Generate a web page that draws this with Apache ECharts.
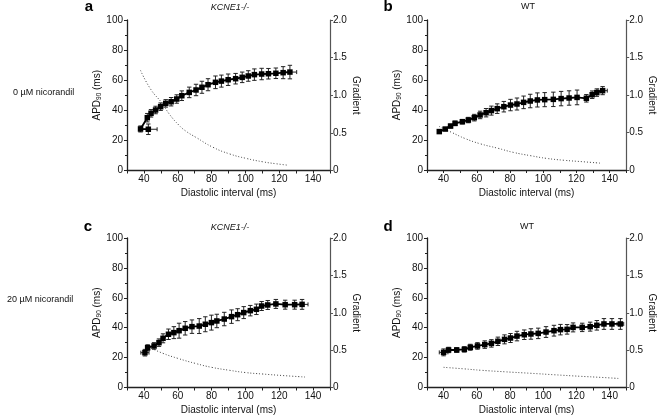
<!DOCTYPE html>
<html>
<head>
<meta charset="utf-8">
<script src="https://cdn.jsdelivr.net/npm/echarts@6/dist/echarts.min.js"></script>
<style>html,body{margin:0;padding:0;background:#fff;}#c{width:658px;height:417px;}</style>
</head>
<body>
<div id="c"></div>
<script>
// Panel a: KCNE1-/-, 0 µM nicorandil
const aX = [42.6, 38.0, 42.0, 44.2, 46.9, 49.9, 52.9, 56.1, 59.4, 62.4, 66.8, 70.8, 74.3, 77.9, 82.3, 85.8, 89.8, 94.2, 98.1, 101.7, 105.3, 109.6, 113.6, 118.0, 122.3, 126.3];
const aY = [27.4, 27.6, 35.1, 38.0, 40.2, 42.4, 44.6, 45.7, 47.5, 49.7, 51.9, 53.5, 55.3, 57.0, 58.6, 59.4, 60.3, 61.0, 61.9, 62.8, 63.7, 64.1, 64.3, 64.6, 65.0, 65.4];
const aYErr = [3.5, 2.0, 2.8, 2.5, 2.5, 2.5, 2.5, 2.8, 2.8, 3.2, 3.5, 3.8, 4.0, 4.0, 4.2, 4.0, 3.8, 3.5, 3.5, 3.5, 3.8, 3.8, 3.5, 3.5, 4.0, 4.5];
const aXErr = [5.2, 0.8, 0.8, 0.8, 0.8, 0.8, 0.8, 0.8, 0.8, 0.8, 0.8, 0.8, 0.8, 0.8, 0.8, 0.8, 0.8, 0.8, 0.8, 0.8, 0.8, 0.8, 0.8, 0.8, 0.8, 4.0];
const aGX = [38, 44, 50.9, 55, 60.8, 65, 70.8, 80.7, 90.7, 100.6, 110.4, 118, 125.3];
const aGY = [1.33, 1.08, 0.89, 0.75, 0.60, 0.52, 0.44, 0.31, 0.22, 0.16, 0.115, 0.09, 0.07];

// Panel b: WT, 0 µM nicorandil
const bX = [37.4, 41.0, 44.2, 46.9, 51.3, 54.9, 58.5, 62.0, 65.6, 68.8, 72.3, 76.3, 80.3, 84.2, 88.2, 92.2, 96.5, 100.9, 106.1, 110.8, 115.6, 120.4, 126.0, 129.5, 132.3, 135.8];
const bY = [25.6, 27.3, 29.3, 31.1, 32.2, 33.3, 34.9, 36.7, 38.2, 39.6, 40.9, 42.2, 43.3, 44.0, 45.1, 46.0, 46.7, 46.9, 47.1, 47.6, 48.0, 48.4, 47.8, 50.2, 51.6, 52.9];
const bYErr = [1.0, 1.0, 1.2, 1.5, 1.5, 1.8, 2.2, 2.5, 2.8, 3.0, 3.2, 3.5, 3.8, 4.0, 4.2, 4.5, 4.7, 4.7, 4.8, 4.8, 4.8, 4.9, 2.5, 2.5, 2.5, 2.7];
const bXErr = [0.8, 0.8, 0.8, 0.8, 0.8, 0.8, 0.8, 0.8, 0.8, 0.8, 0.8, 0.8, 0.8, 0.8, 0.8, 0.8, 0.8, 0.8, 0.8, 0.8, 0.8, 0.8, 0.8, 0.8, 0.8, 2.8];
const bGX = [37.4, 45, 52.9, 62, 72.7, 82, 92.6, 102, 112.4, 124, 135.2];
const bGY = [0.58, 0.50, 0.42, 0.35, 0.29, 0.235, 0.19, 0.155, 0.13, 0.11, 0.09];

// Panel c: KCNE1-/-, 20 µM nicorandil
const cX = [40.6, 42.2, 46.0, 48.9, 51.3, 54.5, 57.7, 60.8, 64.4, 68.4, 72.7, 76.3, 79.9, 83.1, 87.5, 91.8, 95.4, 99.0, 102.9, 106.5, 109.6, 113.2, 118.0, 123.5, 129.1, 133.5];
const cY = [23.3, 26.6, 27.8, 30.0, 32.9, 35.6, 36.7, 38.0, 39.6, 40.7, 41.1, 42.3, 43.4, 44.5, 45.8, 47.4, 48.7, 50.1, 51.4, 52.3, 54.5, 55.2, 55.9, 55.4, 55.4, 55.6];
const cYErr = [2.2, 2.0, 2.2, 2.5, 3.0, 3.5, 4.0, 5.0, 4.5, 4.5, 5.0, 5.0, 5.0, 4.5, 4.5, 4.5, 4.0, 4.0, 3.5, 3.5, 3.0, 3.0, 3.0, 3.0, 3.0, 3.3];
const cXErr = [2.4, 0.8, 0.8, 0.8, 0.8, 0.8, 0.8, 0.8, 0.8, 0.8, 0.8, 0.8, 0.8, 0.8, 0.8, 0.8, 0.8, 0.8, 0.8, 0.8, 0.8, 0.8, 0.8, 0.8, 0.8, 3.5];
const cGX = [43, 50.9, 60, 70.8, 80, 90.6, 100, 110.4, 122, 135.2];
const cGY = [0.54, 0.46, 0.39, 0.32, 0.27, 0.23, 0.20, 0.18, 0.16, 0.14];

// Panel d: WT, 20 µM nicorandil
const dX = [40.0, 43.0, 47.9, 52.5, 56.1, 60.4, 64.8, 68.8, 72.7, 76.7, 80.3, 84.2, 88.6, 92.6, 97.0, 101.7, 106.5, 110.4, 114.4, 118.0, 123.5, 128.3, 132.3, 136.6, 141.4, 146.5];
const dY = [23.5, 25.1, 25.1, 25.5, 26.9, 27.8, 28.7, 29.5, 30.9, 32.2, 33.1, 34.4, 35.3, 35.8, 36.2, 37.1, 38.0, 38.7, 38.9, 40.2, 40.2, 40.7, 41.6, 42.5, 42.5, 42.5];
const dYErr = [2.3, 1.8, 1.5, 1.8, 2.0, 2.2, 2.5, 2.5, 2.8, 3.0, 3.0, 3.2, 3.2, 3.5, 3.5, 3.6, 3.6, 3.5, 3.2, 3.0, 2.8, 3.0, 3.2, 3.6, 3.6, 3.6];
const dXErr = [2.6, 0.8, 0.8, 0.8, 0.8, 0.8, 0.8, 0.8, 0.8, 0.8, 0.8, 0.8, 0.8, 0.8, 0.8, 0.8, 0.8, 0.8, 0.8, 0.8, 0.8, 0.8, 0.8, 0.8, 0.8, 2.0];
const dGX = [40, 52, 62.8, 77, 92.6, 107, 122.3, 135, 146.2];
const dGY = [0.27, 0.25, 0.23, 0.21, 0.19, 0.17, 0.15, 0.135, 0.12];

const xTickLabels = [40, 60, 80, 100, 120, 140];
const rightTickLabels = ['0', '0.5', '1.0', '1.5', '2.0'];
const panelLetters = ['a', 'b', 'c', 'd'];
const panelTitles = ['KCNE1-/-', 'WT', 'KCNE1-/-', 'WT'];
const rowLabels = ['0 µM nicorandil', '20 µM nicorandil'];

const FONT = '"Liberation Sans", Arial, sans-serif';
const panels = [
  {x: aX, y: aY, xe: aXErr, ye: aYErr, gx: aGX, gy: aGY},
  {x: bX, y: bY, xe: bXErr, ye: bYErr, gx: bGX, gy: bGY},
  {x: cX, y: cY, xe: cXErr, ye: cYErr, gx: cGX, gy: cGY},
  {x: dX, y: dY, xe: dXErr, ye: dYErr, gx: dGX, gy: dGY}
];
const grids = [
  {left: 127, top: 20, width: 203, height: 150.5},
  {left: 427, top: 20, width: 201.5, height: 150},
  {left: 127, top: 238, width: 203, height: 149.5},
  {left: 427, top: 238, width: 201.5, height: 149.5}
];

const xAxes = [], yAxes = [], series = [];
grids.forEach((g, i) => {
  xAxes.push({
    type: 'value', gridIndex: i, min: 30, max: 150, interval: 10,
    name: 'Diastolic interval (ms)', nameLocation: 'middle', nameGap: 18,
    nameTextStyle: {fontFamily: FONT, fontSize: 10, color: '#111'},
    axisLine: {lineStyle: {color: '#222', width: 1.3}},
    axisTick: {length: 3, lineStyle: {color: '#222'}},
    axisLabel: {fontFamily: FONT, fontSize: 10, color: '#111', margin: 4,
      formatter: v => xTickLabels.indexOf(v) >= 0 ? String(v) : ''},
    splitLine: {show: false}
  });
  yAxes.push({
    type: 'value', gridIndex: i, min: 0, max: 100, interval: 20, position: 'left',
    name: '{n|APD}{s|90}{n| (ms)}', nameLocation: 'middle', nameGap: 22,
    nameTextStyle: {fontFamily: FONT, fontSize: 10, color: '#111',
      rich: {n: {fontFamily: FONT, fontSize: 10, color: '#111'},
             s: {fontFamily: FONT, fontSize: 6.5, color: '#111', verticalAlign: 'bottom', padding: [4, 0, 0, 0]}}},
    axisLine: {show: true, lineStyle: {color: '#222', width: 1.3}},
    axisTick: {length: 3, lineStyle: {color: '#222'}},
    minorTick: {show: true, splitNumber: 2, length: 2, lineStyle: {color: '#222'}},
    axisLabel: {fontFamily: FONT, fontSize: 10, color: '#111', margin: 4},
    splitLine: {show: false}
  });
  yAxes.push({
    type: 'value', gridIndex: i, min: 0, max: 2, interval: 0.5, position: 'right',
    name: 'Gradient', nameLocation: 'middle', nameGap: 20, nameRotate: -90,
    nameTextStyle: {fontFamily: FONT, fontSize: 10, color: '#111'},
    axisLine: {show: true, lineStyle: {color: '#555', width: 1.2}},
    axisTick: {length: 3, lineStyle: {color: '#555'}},
    axisLabel: {fontFamily: FONT, fontSize: 10, color: '#111', margin: 3,
      formatter: v => rightTickLabels[Math.round(v * 2)]},
    splitLine: {show: false}
  });
});

panels.forEach((p, i) => {
  series.push({
    type: 'line', xAxisIndex: i, yAxisIndex: 2 * i + 1,
    data: p.gx.map((x, k) => [x, p.gy[k]]),
    smooth: true, symbol: 'none', silent: true,
    lineStyle: {color: '#444', width: 1, type: [1, 2]}, z: 1
  });
  series.push({
    type: 'custom', xAxisIndex: i, yAxisIndex: 2 * i, silent: true, z: 3,
    encode: {x: 0, y: 1},
    data: p.x.map((x, k) => [x, p.y[k], p.xe[k], p.ye[k]]),
    renderItem: (params, api) => {
      const x = api.value(0), y = api.value(1), xe = api.value(2), ye = api.value(3);
      const c = api.coord([x, y]);
      const t = api.coord([x, y + ye]), b = api.coord([x, y - ye]);
      const l = api.coord([x - xe, y]), r = api.coord([x + xe, y]);
      const st = {stroke: '#222', lineWidth: 1};
      const ch = [
        {type: 'line', shape: {x1: c[0], y1: t[1], x2: c[0], y2: b[1]}, style: st},
        {type: 'line', shape: {x1: c[0] - 2.2, y1: t[1], x2: c[0] + 2.2, y2: t[1]}, style: st},
        {type: 'line', shape: {x1: c[0] - 2.2, y1: b[1], x2: c[0] + 2.2, y2: b[1]}, style: st},
        {type: 'line', shape: {x1: l[0], y1: c[1], x2: r[0], y2: c[1]}, style: st}
      ];
      if (xe > 1.5) {
        ch.push({type: 'line', shape: {x1: l[0], y1: c[1] - 2, x2: l[0], y2: c[1] + 2}, style: st});
        ch.push({type: 'line', shape: {x1: r[0], y1: c[1] - 2, x2: r[0], y2: c[1] + 2}, style: st});
      }
      return {type: 'group', children: ch};
    }
  });
  series.push({
    type: 'line', xAxisIndex: i, yAxisIndex: 2 * i,
    data: p.x.map((x, k) => [x, p.y[k]]),
    symbol: 'rect', symbolSize: 5.5, silent: true, z: 4,
    itemStyle: {color: '#000'},
    lineStyle: {color: '#000', width: 1.8}
  });
});

const graphics = [];
const letterPos = [[89, 7], [388, 7], [88, 227], [388, 227]];
const titlePos = [[230, 7], [528, 7], [230, 227], [527, 227]];
panelLetters.forEach((t, i) => {
  graphics.push({type: 'text', x: letterPos[i][0], y: letterPos[i][1],
    style: {text: t, font: 'bold 15px ' + FONT, fill: '#000', textAlign: 'center', textVerticalAlign: 'middle'}});
  graphics.push({type: 'text', x: titlePos[i][0], y: titlePos[i][1],
    style: {text: panelTitles[i], font: (i % 2 === 0 ? 'italic ' : '') + '9px ' + FONT, fill: '#111', textAlign: 'center', textVerticalAlign: 'middle'}});
});
graphics.push({type: 'text', x: 13, y: 93, style: {text: rowLabels[0], font: '9px ' + FONT, fill: '#111', textAlign: 'left', textVerticalAlign: 'middle'}});
graphics.push({type: 'text', x: 7, y: 300, style: {text: rowLabels[1], font: '9px ' + FONT, fill: '#111', textAlign: 'left', textVerticalAlign: 'middle'}});

const chart = echarts.init(document.getElementById('c'), null, {renderer: 'canvas'});
chart.setOption({
  animation: false,
  backgroundColor: '#fff',
  grid: grids,
  xAxis: xAxes,
  yAxis: yAxes,
  series: series,
  graphic: graphics
});
</script>
</body>
</html>
